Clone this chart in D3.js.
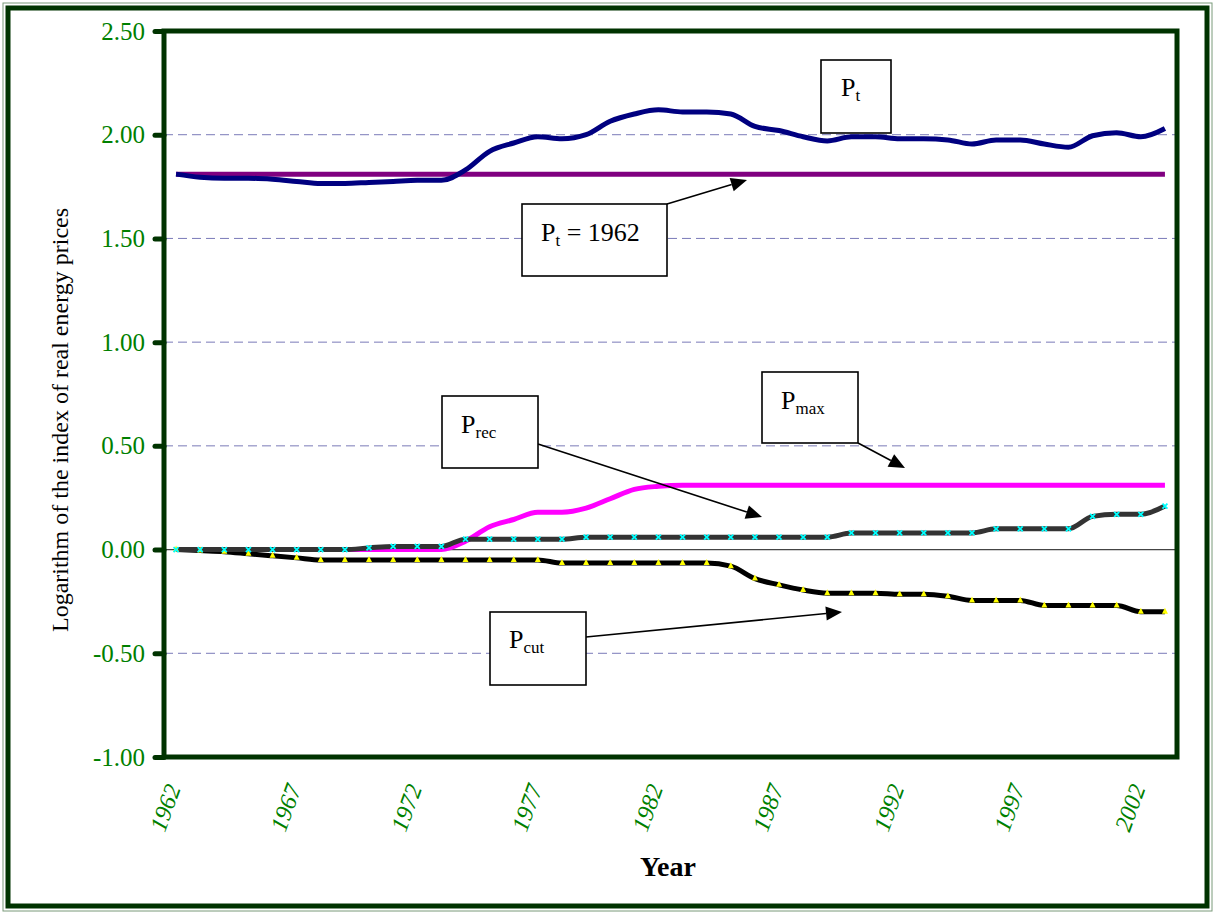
<!DOCTYPE html>
<html>
<head>
<meta charset="utf-8">
<script src="https://cdn.jsdelivr.net/npm/d3@7/dist/d3.min.js"></script>
<style>
  html, body { margin: 0; padding: 0; background: #fff; }
  svg { display: block; }
  text { font-family: "Liberation Serif", "Times New Roman", serif; }
</style>
</head>
<body>
<svg id="chart" width="1215" height="914"></svg>
<script>
// ---------------- DATA ----------------
const years = [1962,1963,1964,1965,1966,1967,1968,1969,1970,1971,
               1972,1973,1974,1975,1976,1977,1978,1979,1980,1981,
               1982,1983,1984,1985,1986,1987,1988,1989,1990,1991,
               1992,1993,1994,1995,1996,1997,1998,1999,2000,2001,
               2002,2003];
const xTickLabels = [1962,1967,1972,1977,1982,1987,1992,1997,2002];
const yTickValues = [2.5,2.0,1.5,1.0,0.5,0.0,-0.5,-1.0];
const yGridValues = [2.0,1.5,1.0,0.5,-0.5];

const Pt = [1.81,1.795,1.79,1.79,1.785,1.775,1.765,1.765,1.77,1.775,
            1.78,1.78,1.83,1.92,1.96,1.99,1.98,2.00,2.065,2.10,
            2.12,2.11,2.11,2.10,2.04,2.02,1.99,1.97,1.99,1.99,
            1.98,1.98,1.975,1.955,1.975,1.975,1.955,1.94,1.995,2.01,
            1.99,2.03];
const Pt1962 = [1.81,1.81,1.81,1.81,1.81,1.81,1.81,1.81,1.81,1.81,
                1.81,1.81,1.81,1.81,1.81,1.81,1.81,1.81,1.81,1.81,
                1.81,1.81,1.81,1.81,1.81,1.81,1.81,1.81,1.81,1.81,
                1.81,1.81,1.81,1.81,1.81,1.81,1.81,1.81,1.81,1.81,
                1.81,1.81];
const Pmax = [0,0,0,0,0,0,0,0,0,0,
              0,0,0.04,0.11,0.145,0.18,0.18,0.20,0.245,0.29,
              0.305,0.31,0.31,0.31,0.31,0.31,0.31,0.31,0.31,0.31,
              0.31,0.31,0.31,0.31,0.31,0.31,0.31,0.31,0.31,0.31,
              0.31,0.31];
const Prec = [0,0,0,0,0,0,0,0,0.008,0.015,
              0.015,0.015,0.05,0.05,0.05,0.05,0.05,0.06,0.06,0.06,
              0.06,0.06,0.06,0.06,0.06,0.06,0.06,0.06,0.08,0.08,
              0.08,0.08,0.08,0.08,0.10,0.10,0.10,0.10,0.16,0.17,
              0.17,0.21];
const Pcut = [0,-0.005,-0.01,-0.02,-0.03,-0.04,-0.05,-0.05,-0.05,-0.05,
              -0.05,-0.05,-0.05,-0.05,-0.05,-0.05,-0.065,-0.065,-0.065,-0.065,
              -0.065,-0.065,-0.065,-0.08,-0.14,-0.17,-0.195,-0.21,-0.21,-0.21,
              -0.215,-0.215,-0.225,-0.245,-0.245,-0.245,-0.27,-0.27,-0.27,-0.27,
              -0.30,-0.30];

// ---------------- LAYOUT ----------------
const svg = d3.select("#chart");
const W = 1215, H = 914;
const plot = { left: 164, top: 31, right: 1177, bottom: 757 };
const green = "#003300";

const x = d3.scaleBand().domain(years).range([plot.left, plot.right]);
const xc = d => x(d) + x.bandwidth() / 2;
const y = d3.scaleLinear().domain([-1, 2.5]).range([plot.bottom, plot.top]);

// outer border
svg.append("rect").attr("x", 3).attr("y", 3).attr("width", W - 6).attr("height", H - 6)
  .attr("fill", "none").attr("stroke", "#7a9a7a").attr("stroke-width", 1);
svg.append("rect").attr("x", 8).attr("y", 8).attr("width", W - 16).attr("height", H - 16)
  .attr("fill", "#fff").attr("stroke", green).attr("stroke-width", 5);

// gridlines
const grid = svg.append("g");
grid.selectAll("line").data(yGridValues).join("line")
  .attr("x1", plot.left).attr("x2", plot.right)
  .attr("y1", d => y(d)).attr("y2", d => y(d))
  .attr("stroke", "#7a7ab8").attr("stroke-width", 1).attr("stroke-dasharray", "9,5");
// zero line
svg.append("line").attr("x1", plot.left).attr("x2", plot.right)
  .attr("y1", y(0)).attr("y2", y(0)).attr("stroke", "#444").attr("stroke-width", 1.3);

// y axis
const fmt = d3.format(".2f");
const yAxis = d3.axisLeft(y).tickValues(yTickValues).tickSize(9).tickPadding(10)
  .tickFormat(d => fmt(d).replace("\u2212", "-"));
const gy = svg.append("g").attr("transform", `translate(${plot.left},0)`).call(yAxis);
gy.select(".domain").remove();
gy.selectAll(".tick line").attr("stroke", green).attr("stroke-width", 5).attr("stroke-linecap", "round");
gy.selectAll(".tick text").attr("fill", "#008000").attr("font-size", 25)
  .attr("font-family", "Liberation Serif");

// x axis labels
const xAxis = d3.axisBottom(x).tickValues(xTickLabels).tickSize(0).tickFormat(d3.format("d"));
const gx = svg.append("g").attr("transform", `translate(0,${plot.bottom})`).call(xAxis);
gx.select(".domain").remove();
gx.selectAll(".tick text")
  .attr("fill", "#008000").attr("font-size", 24).attr("font-style", "italic")
  .attr("font-family", "Liberation Serif")
  .attr("text-anchor", "end").attr("dy", 0).attr("y", 0)
  .attr("transform", "translate(5,31) rotate(-70)");

// plot frame
svg.append("rect").attr("x", plot.left).attr("y", plot.top)
  .attr("width", plot.right - plot.left).attr("height", plot.bottom - plot.top)
  .attr("fill", "none").attr("stroke", green).attr("stroke-width", 5);

// axis titles
svg.append("text").attr("transform", `translate(68,420) rotate(-90)`)
  .attr("text-anchor", "middle").attr("font-size", 24).attr("fill", "#000")
  .text("Logarithm of the index of real energy prices");
svg.append("text").attr("x", 668).attr("y", 876).attr("text-anchor", "middle")
  .attr("font-size", 28).attr("font-weight", "bold").attr("fill", "#000").text("Year");

// ---------------- SERIES ----------------
const line = d3.line().x((d, i) => xc(years[i])).y(d => y(d)).curve(d3.curveMonotoneX);
const series = svg.append("g");
series.append("path").datum(Pt1962).attr("d", line).attr("fill", "none")
  .attr("stroke", "#800080").attr("stroke-width", 5);
series.append("path").datum(Pt).attr("d", line).attr("fill", "none")
  .attr("stroke", "#000080").attr("stroke-width", 5).attr("stroke-linejoin", "round");
series.append("path").datum(Pcut).attr("d", line).attr("fill", "none")
  .attr("stroke", "#000").attr("stroke-width", 5);
series.append("path").datum(Pmax).attr("d", line).attr("fill", "none")
  .attr("stroke", "#ff00ff").attr("stroke-width", 5);
series.append("path").datum(Prec).attr("d", line).attr("fill", "none")
  .attr("stroke", "#333333").attr("stroke-width", 5);

// markers P_cut: yellow triangles
series.append("g").selectAll("path").data(Pcut).join("path")
  .attr("d", "M0,-4L3,2L-3,2Z")
  .attr("transform", (d, i) => `translate(${xc(years[i])},${y(d)})`)
  .attr("fill", "#ffff00");
// markers P_rec: cyan x
series.append("g").selectAll("path").data(Prec).join("path")
  .attr("d", "M-2.5,-2.5L2.5,2.5M-2.5,2.5L2.5,-2.5")
  .attr("transform", (d, i) => `translate(${xc(years[i])},${y(d)})`)
  .attr("stroke", "#00ffff").attr("stroke-width", 1.8).attr("fill", "none");

// ---------------- ANNOTATIONS ----------------
const boxes = [
  { x: 821, y: 60, w: 70, h: 73, tx: 841, ty: 96, main: "P", sub: "t", rest: "" },
  { x: 522, y: 204, w: 145, h: 72, tx: 541, ty: 241, main: "P", sub: "t", rest: " = 1962" },
  { x: 762, y: 372, w: 96, h: 71, tx: 781, ty: 409, main: "P", sub: "max", rest: "" },
  { x: 442, y: 396, w: 96, h: 72, tx: 461, ty: 433, main: "P", sub: "rec", rest: "" },
  { x: 490, y: 612, w: 96, h: 73, tx: 509, ty: 648, main: "P", sub: "cut", rest: "" }
];
const arrows = [
  { x1: 667, y1: 204, x2: 747, y2: 180 },
  { x1: 858, y1: 443, x2: 905, y2: 468 },
  { x1: 538, y1: 444, x2: 762, y2: 517 },
  { x1: 586, y1: 637, x2: 842, y2: 612 }
];
const ann = svg.append("g");
arrows.forEach(a => {
  const ang = Math.atan2(a.y2 - a.y1, a.x2 - a.x1);
  const L = 16, Wd = 7;
  const bx = a.x2 - L * Math.cos(ang), by = a.y2 - L * Math.sin(ang);
  ann.append("line").attr("x1", a.x1).attr("y1", a.y1).attr("x2", bx).attr("y2", by)
    .attr("stroke", "#000").attr("stroke-width", 1.6);
  const p1 = [bx + Wd * Math.sin(ang), by - Wd * Math.cos(ang)];
  const p2 = [bx - Wd * Math.sin(ang), by + Wd * Math.cos(ang)];
  ann.append("path").attr("d", `M${a.x2},${a.y2}L${p1[0]},${p1[1]}L${p2[0]},${p2[1]}Z`)
    .attr("fill", "#000");
});
boxes.forEach(b => {
  ann.append("rect").attr("x", b.x).attr("y", b.y).attr("width", b.w).attr("height", b.h)
    .attr("fill", "#fff").attr("stroke", "#000").attr("stroke-width", 1.6);
  const t = ann.append("text").attr("x", b.tx).attr("y", b.ty).attr("font-size", 26).attr("fill", "#000");
  t.append("tspan").text(b.main);
  t.append("tspan").attr("font-size", 17).attr("dy", 5).text(b.sub);
  if (b.rest) t.append("tspan").attr("dy", -5).text(b.rest);
});
</script>
</body>
</html>
